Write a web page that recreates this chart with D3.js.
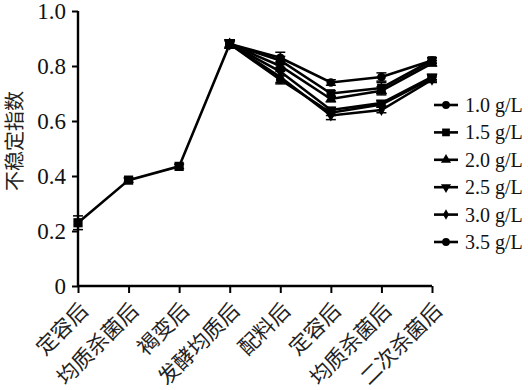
<!DOCTYPE html>
<html>
<head>
<meta charset="utf-8">
<script src="https://cdn.jsdelivr.net/npm/d3@7"></script>
<style>
  body { margin: 0; background: #fff; }
  svg { display: block; }
</style>
</head>
<body>
<div id="chart"></div>
<script>
// categories along the process
var categories = ["定容后", "均质杀菌后", "褐变后", "发酵均质后", "配料后", "定容后 ", "均质杀菌后 ", "二次杀菌后"];
var yTicks = [0, 0.2, 0.4, 0.6, 0.8, 1.0];

// shared part before the gellan concentrations split
var baseValues = [0.23, 0.385, 0.435, 0.88];
var baseErrors = [0.025, 0.008, 0.008, 0.015];

// from 发酵均质后 onwards, one line per concentration
var seriesNames = ["1.0 g/L", "1.5 g/L", "2.0 g/L", "2.5 g/L", "3.0 g/L", "3.5 g/L"];
var seriesValues = [
  [0.88, 0.83, 0.74, 0.76, 0.82],
  [0.88, 0.82, 0.70, 0.72, 0.82],
  [0.88, 0.80, 0.68, 0.71, 0.81],
  [0.88, 0.78, 0.64, 0.665, 0.76],
  [0.88, 0.76, 0.62, 0.64, 0.75],
  [0.88, 0.75, 0.63, 0.66, 0.755]
];
var seriesErrors = [
  [0.015, 0.02, 0.01, 0.015, 0.01],
  [0.015, 0.015, 0.01, 0.02, 0.01],
  [0.015, 0.015, 0.01, 0.015, 0.01],
  [0.015, 0.015, 0.01, 0.01, 0.01],
  [0.015, 0.02, 0.015, 0.01, 0.01],
  [0.015, 0.015, 0.01, 0.01, 0.01]
];
var symbols = [d3.symbolCircle, d3.symbolSquare, d3.symbolTriangle, "down", d3.symbolDiamond, d3.symbolCircle];
var symSizes = [60, 75, 55, 55, 40, 60];

var W = 528, H = 390;
var margin = {top: 11, right: 96, bottom: 104, left: 78};
var width = W - margin.left - margin.right,
    height = H - margin.top - margin.bottom;

var svg = d3.select("#chart").append("svg")
  .attr("width", W)
  .attr("height", H)
  .append("g")
  .attr("transform", "translate(" + margin.left + "," + margin.top + ")");

var x = d3.scalePoint().domain(categories).range([0, width]).padding(0);
var y = d3.scaleLinear().domain([0, 1]).range([height, 0]);

var serif = "'Liberation Serif', 'Times New Roman', serif";
var cjk = "'Noto Sans CJK SC', sans-serif";

// y axis
var yAxis = svg.append("g")
  .call(d3.axisLeft(y).tickValues(yTicks).tickSize(6).tickPadding(6)
    .tickFormat(function(d) { return d === 0 ? "0" : d3.format(".1f")(d); }));
yAxis.select(".domain").attr("stroke-width", 2.4).attr("d", "M0," + height + "V0");
yAxis.selectAll(".tick line").attr("stroke-width", 2);
yAxis.selectAll("text")
  .style("font-family", serif)
  .style("font-size", "23px")
  .attr("fill", "#111");

// x axis
var xAxis = svg.append("g")
  .attr("transform", "translate(0," + height + ")")
  .call(d3.axisBottom(x).tickSize(7).tickFormat(""));
xAxis.select(".domain").attr("stroke-width", 2.4).attr("d", "M0,0H" + width);
xAxis.selectAll(".tick line").attr("stroke-width", 2);

xAxis.selectAll(".tick").append("text")
  .attr("transform", "translate(11,26) rotate(-45)")
  .attr("text-anchor", "end")
  .attr("fill", "#222")
  .style("font-family", cjk)
  .style("font-size", "21px")
  .text(function(d) { return d.trim(); });

// y label
svg.append("text")
  .attr("transform", "translate(" + (15 - margin.left) + "," + 130 + ") rotate(-90)")
  .attr("text-anchor", "middle")
  .attr("dy", "0.35em")
  .attr("fill", "#222")
  .style("font-family", cjk)
  .style("font-size", "20px")
  .text("不稳定指数");

var line = d3.line()
  .x(function(d) { return x(d.c); })
  .y(function(d) { return y(d.v); });

function symPath(s, size) {
  if (s === "down") return d3.symbol().type(d3.symbolTriangle).size(size)();
  return d3.symbol().type(s).size(size)();
}
function symRotate(s) { return s === "down" ? " rotate(180)" : ""; }

function drawSeries(points, sym, size) {
  svg.append("path")
    .datum(points)
    .attr("fill", "none")
    .attr("stroke", "#000")
    .attr("stroke-width", 2.6)
    .attr("d", line);

  var err = svg.append("g");
  points.forEach(function(p) {
    var cx = x(p.c);
    err.append("line").attr("x1", cx).attr("x2", cx)
      .attr("y1", y(p.v - p.e)).attr("y2", y(p.v + p.e))
      .attr("stroke", "#000").attr("stroke-width", 1.5);
    [p.v - p.e, p.v + p.e].forEach(function(v) {
      err.append("line").attr("x1", cx - 5).attr("x2", cx + 5)
        .attr("y1", y(v)).attr("y2", y(v))
        .attr("stroke", "#000").attr("stroke-width", 1.5);
    });
  });

  svg.append("g").selectAll("path")
    .data(points)
    .enter().append("path")
    .attr("transform", function(d) { return "translate(" + x(d.c) + "," + y(d.v) + ")" + symRotate(sym); })
    .attr("d", symPath(sym, size))
    .attr("fill", "#000");
}

// base line
drawSeries(baseValues.map(function(v, i) { return {c: categories[i], v: v, e: baseErrors[i]}; }),
  d3.symbolSquare, 85);

// concentration lines
seriesValues.forEach(function(vals, s) {
  var pts = vals.map(function(v, i) { return {c: categories[i + 3], v: v, e: seriesErrors[s][i]}; });
  drawSeries(pts, symbols[s], symSizes[s]);
});

// legend
var legend = svg.selectAll(".legend")
  .data(seriesNames)
  .enter().append("g")
  .attr("class", "legend")
  .attr("transform", function(d, i) { return "translate(" + (width + 14) + "," + (94 + i * 27.4) + ")"; });

legend.append("line")
  .attr("x1", -12).attr("x2", 12)
  .attr("stroke", "#000").attr("stroke-width", 2.6);
legend.append("path")
  .attr("transform", function(d, i) { return symRotate(symbols[i]); })
  .attr("d", function(d, i) { return symPath(symbols[i], symSizes[i] * 0.8); })
  .attr("fill", "#000");
legend.append("text")
  .attr("x", 19)
  .attr("dy", "0.35em")
  .attr("fill", "#111")
  .style("font-family", serif)
  .style("font-size", "20px")
  .text(function(d) { return d; });
</script>
</body>
</html>
